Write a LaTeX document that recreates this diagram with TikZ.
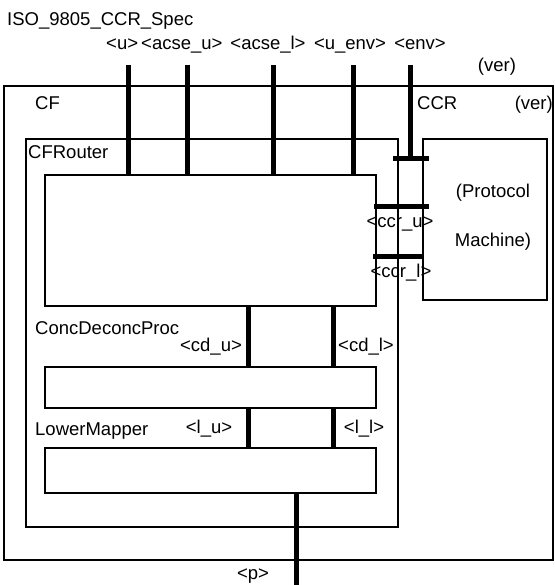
\documentclass[tikz,border=0pt]{standalone}
\usepackage{fontspec}
\setmainfont{Liberation Sans}
\begin{document}
\begin{tikzpicture}[x=1pt,y=-1pt,
  box/.style={draw, line width=1.3pt, rectangle, inner sep=0pt, outer sep=0pt, anchor=north west},
  port/.style={line width=5pt},
  lbl/.style={font=\fontsize{18.5}{21}\selectfont, inner sep=0pt, anchor=base},
  lbll/.style={lbl, anchor=base west},
  lblr/.style={lbl, anchor=base east}]
\useasboundingbox (0,0) rectangle (554,585);

% boxes
\node[box, minimum width=549pt, minimum height=474pt] (outer) at (4,86) {};
\node[box, minimum width=372pt, minimum height=388pt] (cfr) at (26,139) {};
\node[box, minimum width=331pt, minimum height=131pt] (router) at (45,175) {};
\node[box, minimum width=331pt, minimum height=41pt] (conc) at (45,367) {};
\node[box, minimum width=331pt, minimum height=45pt] (lower) at (45,448) {};
\node[box, minimum width=124pt, minimum height=161pt] (pm) at (423,139) {};

% free ends of the ports
\coordinate (tu) at (128,65);
\coordinate (tau) at (187,65);
\coordinate (tal) at (273,65);
\coordinate (tue) at (353,65);
\coordinate (te) at (410,65);
\coordinate (xcdu) at (248,0);
\coordinate (xcdl) at (333,0);
\coordinate (pend) at (296,585);
\coordinate (b1w) at (393,159);
\coordinate (b1e) at (429,159);
\coordinate (b2w) at (374,206);
\coordinate (b2e) at (429,206);
\coordinate (b3w) at (373,256);
\coordinate (b3e) at (424,256);

% ports
\draw[port] (tu) -- (tu |- router.north);
\draw[port] (tau) -- (tau |- router.north);
\draw[port] (tal) -- (tal |- router.north);
\draw[port] (tue) -- (tue |- router.north);
\draw[port] (te) -- (te |- b1w);
\draw[port] (b1w) -- (b1e);
\draw[port] (b2w) -- (b2e);
\draw[port] (b3w) -- (b3e);
\draw[port] (router.south -| xcdu) -- (conc.north -| xcdu);
\draw[port] (router.south -| xcdl) -- (conc.north -| xcdl);
\draw[port] (conc.south -| xcdu) -- (lower.north -| xcdu);
\draw[port] (conc.south -| xcdl) -- (lower.north -| xcdl);
\draw[port] (lower.south -| pend) -- (pend);

% labels
\node[lbll] (tspec) at (7,26) {ISO\_9805\_CCR\_Spec};
\node[lbll] (lu) at (106,50) {<u>};
\node[lbll] (lau) at (141,50) {<acse\_u>};
\node[lbl] (lal) at (268,50) {<acse\_l>};
\node[lbl] (lue) at (350,50) {<u\_env>};
\node[lbl] (le) at (420,50) {<env>};
\node[lbl] (ver1) at (497,72) {(ver)};
\node[lbll] (cf) at (35,110) {CF};
\node[lbll] (ccr) at (417,110) {CCR};
\node[lblr] (ver2) at (553,110) {(ver)};
\node[lbll] (tcfr) at (28,159) {CFRouter};
\node[lbl] (prot) at (493,197) {(Protocol};
\node[lbl] (mach) at (493,246) {Machine)};
\node[lbl] (lccru) at (400,227) {<ccr\_u>};
\node[lbl] (lccrl) at (401,277) {<ccr\_l>};
\node[lbll] (tconc) at (35,334) {ConcDeconcProc};
\node[lbl] (lcdu) at (211,351) {<cd\_u>};
\node[lbl] (lcdl) at (366,351) {<cd\_l>};
\node[lbll] (tlower) at (35,435) {LowerMapper};
\node[lbl] (llu) at (209,433) {<l\_u>};
\node[lbl] (lll) at (364,433) {<l\_l>};
\node[lbl] (lp) at (253,579) {<p>};
\end{tikzpicture}
\end{document}
